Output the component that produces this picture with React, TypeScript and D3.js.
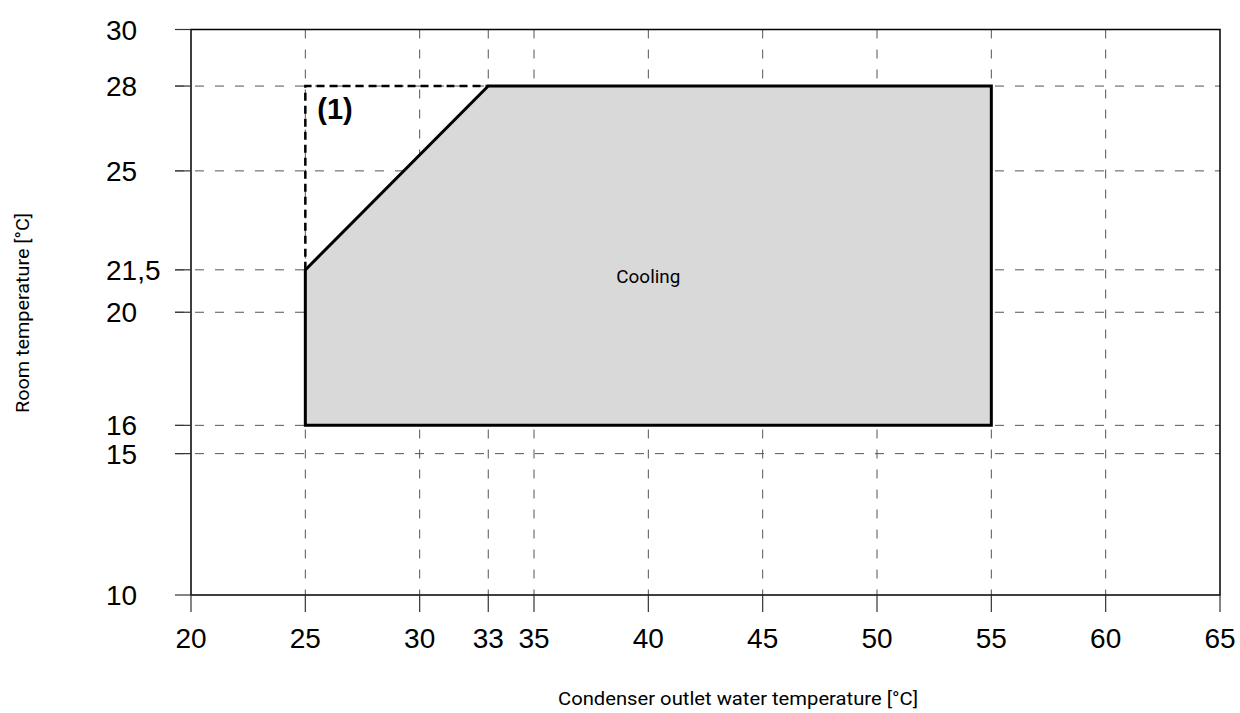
import React from "react";
import * as d3 from "d3";

// Axis ticks
const xTicks = [20, 25, 30, 33, 35, 40, 45, 50, 55, 60, 65];
const yTicks = [10, 15, 16, 20, 21.5, 25, 28, 30];
const yTickLabels = ["10", "15", "16", "20", "21,5", "25", "28", "30"];

// Operating envelope (condenser outlet water temp, room temp)
const coolingArea = [
  [25, 16],
  [25, 21.5],
  [33, 28],
  [55, 28],
  [55, 16],
];
// Extended limit (1)
const limitLine = [
  [25, 21.5],
  [25, 28],
  [33, 28],
];

const width = 1240;
const height = 713;
const margin = { left: 191, right: 20, top: 29.5, bottom: 118 };

const App = () => {
  const x = d3.scaleLinear().domain([20, 65]).range([margin.left, width - margin.right]);
  const y = d3.scaleLinear().domain([10, 30]).range([height - margin.bottom, margin.top]);

  const line = d3
    .line<number[]>()
    .x((d) => x(d[0]))
    .y((d) => y(d[1]));

  const x0 = x(20);
  const x1 = x(65);
  const y0 = y(10);
  const y1 = y(30);
  const numFont = "'Liberation Sans', Arial, sans-serif";
  const condFont = "Roboto, 'Noto Sans', sans-serif";

  return (
    <div style={{ position: "fixed", left: 0, top: 0 }}>
      <svg width={width} height={height} style={{ display: "block", background: "#fff" }}>
        {/* grid */}
        {xTicks
          .filter((t) => t !== 20 && t !== 65)
          .map((t) => (
            <line key={"gx" + t} x1={x(t)} x2={x(t)} y1={y1} y2={y0} stroke="#555" strokeWidth={1} strokeDasharray="9,11" />
          ))}
        {yTicks
          .filter((t) => t !== 10 && t !== 30)
          .map((t) => (
            <line key={"gy" + t} x1={x0 - 16} x2={x1} y1={y(t)} y2={y(t)} stroke="#555" strokeWidth={1} strokeDasharray="9,11" />
          ))}

        {/* cooling envelope */}
        <path d={line(coolingArea) + "Z"} fill="#d9d9d9" stroke="#000" strokeWidth={3} strokeLinejoin="miter" />
        <path d={line(limitLine) || ""} fill="none" stroke="#000" strokeWidth={2.5} strokeDasharray="8,5" />
        <text x={x(25) + 12} y={y(28) + 33} fontFamily={numFont} fontWeight="bold" fontSize={29}>
          (1)
        </text>
        <text x={x(40)} y={y(21.5) + 13} textAnchor="middle" fontFamily={condFont} fontSize={18} textLength={64} lengthAdjust="spacingAndGlyphs">
          Cooling
        </text>

        {/* frame */}
        <rect x={x0} y={y1} width={x1 - x0} height={y0 - y1} fill="none" stroke="#000" strokeWidth={1.5} />

        {/* x ticks */}
        {xTicks.map((t) => (
          <g key={"xt" + t}>
            <line x1={x(t)} x2={x(t)} y1={y0} y2={y0 + 17} stroke="#333" strokeWidth={1.2} />
            <text x={x(t)} y={y0 + 53} textAnchor="middle" fontFamily={numFont} fontSize={28}>
              {t}
            </text>
          </g>
        ))}

        {/* y ticks */}
        {yTicks.map((t, i) => (
          <g key={"yt" + t}>
            <line x1={x0 - 16} x2={x0} y1={y(t)} y2={y(t)} stroke="#333" strokeWidth={1.2} />
            <text x={106} y={y(t) + 10} fontFamily={numFont} fontSize={28}>
              {yTickLabels[i]}
            </text>
          </g>
        ))}

        {/* axis titles */}
        <text x={738} y={705} textAnchor="middle" fontFamily={condFont} fontSize={19} textLength={360} lengthAdjust="spacingAndGlyphs">
          Condenser outlet water temperature [°C]
        </text>
        <text
          transform={`translate(29, 313) rotate(-90)`}
          textAnchor="middle"
          fontFamily={condFont}
          fontSize={19}
          textLength={200}
          lengthAdjust="spacingAndGlyphs"
        >
          Room temperature [°C]
        </text>
      </svg>
    </div>
  );
};

export default App;
